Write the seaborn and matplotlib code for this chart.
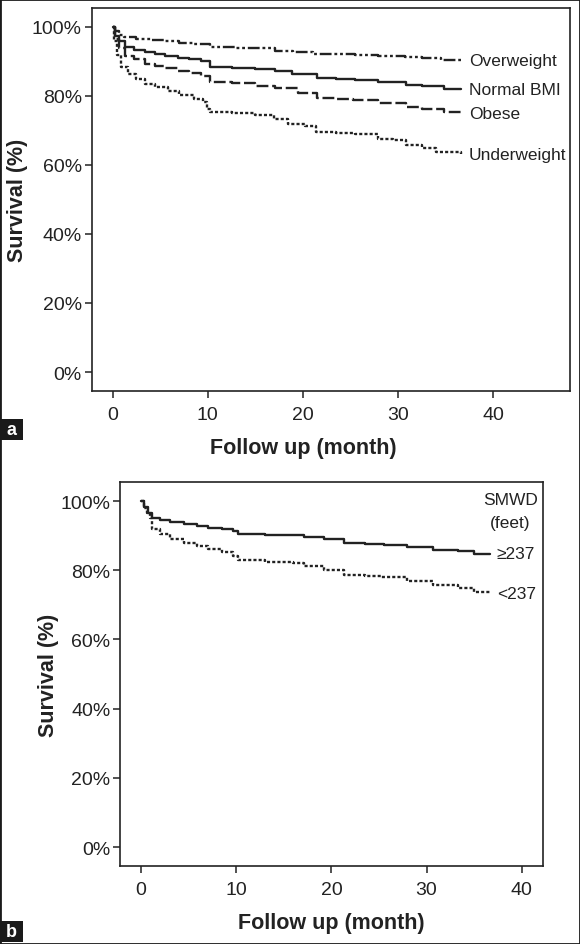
import matplotlib
matplotlib.use("Agg")
import matplotlib.pyplot as plt
import seaborn as sns
from matplotlib.patches import Rectangle

# Kaplan-Meier style curves, panel a (BMI groups)
over_t = [0, 0.3, 0.7, 1.2, 2.5, 4, 5.5, 7, 8.6, 10.2, 13, 15.3, 17.1, 19, 21, 23, 25.5, 27.9, 30.7, 32.5, 34.5, 36.6]
over_s = [100, 98.8, 97.8, 97.0, 96.6, 96.1, 95.8, 95.4, 95.0, 94.1, 93.9, 93.8, 92.9, 92.7, 92.3, 92.2, 92.0, 91.7, 91.2, 90.9, 90.3, 90.3]

norm_t = [0, 0.3, 0.7, 1.3, 2.3, 3.4, 4.5, 5.5, 6.9, 8, 9.3, 10.2, 12.5, 15, 17.1, 18.8, 21.5, 23.5, 25.5, 27.9, 30.8, 32.5, 34.8, 36.6]
norm_s = [100, 97.5, 95.8, 94.1, 93.4, 92.7, 92.2, 91.6, 91.0, 90.6, 90.0, 88.3, 88.0, 87.8, 87.2, 86.4, 85.2, 85.0, 84.7, 84.1, 83.2, 82.8, 82.0, 82.0]

obese_t = [0, 0.3, 0.7, 1.3, 2.3, 3.4, 4.5, 5.5, 6.9, 8, 9.3, 10.2, 12.5, 15, 17.1, 19.5, 21.5, 23.5, 25.3, 27.9, 30.8, 32.5, 34.8, 36.6]
obese_s = [100, 96.5, 93.8, 91.7, 90.6, 89.3, 88.8, 88.0, 87.3, 86.6, 85.9, 84.0, 83.7, 83.0, 82.3, 80.9, 79.5, 79.2, 78.9, 77.9, 76.7, 76.2, 75.4, 75.4]

under_t = [0, 0.2, 0.5, 0.9, 1.6, 2.5, 3.4, 4.5, 5.8, 7, 8.6, 9.5, 9.9, 10.2, 12.5, 15, 17, 18.4, 20.2, 21.4, 23.5, 25.5, 27.9, 29.5, 30.8, 32.5, 34, 36.6]
under_s = [100, 96, 92, 88.3, 86.4, 84.8, 83.5, 82.6, 81.5, 80.4, 79.1, 78.2, 76.2, 75.3, 75.0, 74.4, 73.3, 71.9, 71.2, 69.6, 69.4, 69.0, 67.5, 67.2, 65.8, 65.0, 63.8, 63.2]

# panel b (six minute walk distance)
ge_t = [0, 0.3, 0.7, 1.1, 2, 3, 4.5, 5.9, 7, 8.5, 9.7, 10.2, 13, 16, 17.1, 19.2, 21.3, 23.5, 25.5, 27.9, 30.7, 33.3, 35, 36.7]
ge_s = [100, 98.3, 96.6, 95.2, 94.6, 93.8, 93.4, 92.7, 92.3, 91.9, 91.4, 90.5, 90.3, 90.1, 89.5, 89.0, 87.8, 87.6, 87.4, 86.8, 85.9, 85.5, 84.7, 84.7]

lt_t = [0, 0.3, 0.6, 0.9, 1.1, 2, 3, 4.5, 5.9, 7, 8.5, 9.7, 10.2, 13, 16, 17.1, 19.2, 21.3, 23.5, 25.2, 27.9, 30.7, 33.3, 35, 36.7]
lt_s = [100, 98, 96.5, 95, 91.9, 90.4, 89.0, 88.0, 87.1, 86.2, 85.3, 84.2, 82.9, 82.5, 82.1, 81.3, 80.1, 78.6, 78.3, 78.0, 76.8, 75.7, 74.9, 73.7, 73.7]

x_ticks = [0, 10, 20, 30, 40]
y_ticks = [0, 20, 40, 60, 80, 100]
y_ticklabels = ["0%", "20%", "40%", "60%", "80%", "100%"]

sns.set_theme(style="ticks")
plt.rcParams["font.family"] = ["Liberation Sans", "DejaVu Sans"]
ink = "#222222"
lab_size = 12.5

fig = plt.figure(figsize=(5.8, 9.45), dpi=100)
ax_a = fig.add_axes([0.158, 0.5852, 0.824, 0.4053])
ax_b = fig.add_axes([0.2072, 0.0825, 0.7283, 0.4064])

dash_dot_dot = (0, (5, 1.2, 1.2, 1.2, 1.2, 1.2))
lines_a = [
    (over_t, over_s, dash_dot_dot, "Overweight", 90.2),
    (norm_t, norm_s, "-", "Normal BMI", 82.0),
    (obese_t, obese_s, (0, (5, 1.6)), "Obese", 74.8),
    (under_t, under_s, (0, (1.3, 0.9)), "Underweight", 62.9),
]
for t, s, ls, name, ylab in lines_a:
    sns.lineplot(x=t, y=s, ax=ax_a, color=ink, linewidth=1.7, linestyle=ls,
                 drawstyle="steps-post", estimator=None)
    ax_a.text(37.4, ylab, name, fontsize=lab_size, color=ink, ha="left", va="center")

sns.lineplot(x=ge_t, y=ge_s, ax=ax_b, color=ink, linewidth=1.7, linestyle="-",
             drawstyle="steps-post", estimator=None)
sns.lineplot(x=lt_t, y=lt_s, ax=ax_b, color=ink, linewidth=1.7, linestyle=(0, (1.3, 0.9)),
             drawstyle="steps-post", estimator=None)
ax_b.text(38.8, 100.3, "SMWD", fontsize=lab_size, color=ink, ha="center", va="center")
ax_b.text(38.8, 93.9, "(feet)", fontsize=lab_size, color=ink, ha="center", va="center")
ax_b.text(37.4, 84.7, "\u2265237", fontsize=lab_size, color=ink, ha="left", va="center")
ax_b.text(37.4, 73.3, "<237", fontsize=lab_size, color=ink, ha="left", va="center")

for ax, xmax in [(ax_a, 48.0), (ax_b, 42.2)]:
    ax.set_xlim(-2.2, xmax)
    ax.set_ylim(-5.5, 105.5)
    ax.set_xticks(x_ticks)
    ax.set_yticks(y_ticks)
    ax.set_yticklabels(y_ticklabels)
    ax.tick_params(axis="both", direction="out", length=5, width=1.1, color=ink,
                   labelsize=14, labelcolor=ink)
    ax.tick_params(axis="x", pad=6)
    ax.tick_params(axis="y", pad=2)
    for sp in ax.spines.values():
        sp.set_visible(True)
        sp.set_color(ink)
        sp.set_linewidth(1.2)
    ax.set_xlabel("Follow up (month)", fontsize=15.5, fontweight="bold", color=ink)
    ax.set_ylabel("Survival (%)", fontsize=15.5, fontweight="bold", color=ink)

ax_a.xaxis.set_label_coords(0.442, -0.120)
ax_a.yaxis.set_label_coords(-0.134, 0.5)
ax_b.xaxis.set_label_coords(0.501, -0.120)
ax_b.yaxis.set_label_coords(-0.144, 0.5)

# panel letters and outer frame
for letter, y0 in [("a", 1 - 441 / 945), ("b", 1 - 943 / 945)]:
    fig.patches.append(Rectangle((0, y0), 23 / 580, 21 / 945, transform=fig.transFigure,
                                 facecolor="#1a1a1a", edgecolor="none"))
    fig.text(11.5 / 580, y0 + 10.5 / 945, letter, color="white", fontsize=13,
             fontweight="bold", ha="center", va="center")
fig.patches.append(Rectangle((0, 0), 1, 1, transform=fig.transFigure, fill=False,
                             edgecolor="#1a1a1a", linewidth=2.0))

fig.savefig("out.png", dpi=100)
